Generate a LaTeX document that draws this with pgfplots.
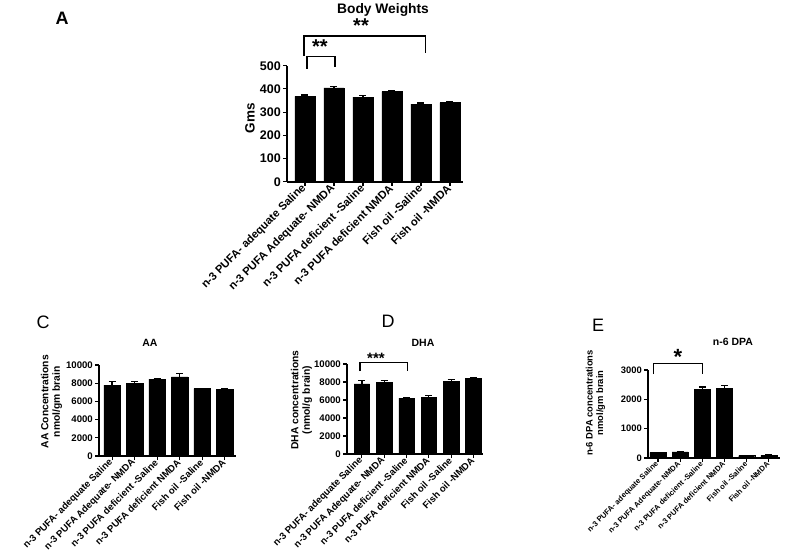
\documentclass[border=0pt]{standalone}
\usepackage{fontspec}
\setmainfont{Liberation Sans}
\usepackage{pgfplots}
\pgfplotsset{compat=1.18}
\newcommand{\fs}[1]{\bfseries\fontsize{#1}{#1}\selectfont}
\pgfplotsset{
  panel/.style={
    scale only axis, anchor=south west,
    axis x line*=bottom, axis y line*=left,
    axis line style={line width=1.4pt},
    tick style={black, line width=1.1pt},
    tick align=outside, major tick length=4pt,
    xtick={0,...,5},
    xticklabels={n-3 PUFA- adequate Saline, n-3 PUFA Adequate- NMDA, n-3 PUFA deficient -Saline, n-3 PUFA deficient NMDA, Fish oil -Saline, Fish oil -NMDA},
    xticklabel style={rotate=45, anchor=east, inner sep=1pt},
    ybar, clip=false, enlargelimits=false,
    /pgf/number format/assume math mode=true,
    /pgf/number format/1000 sep={},
    scaled y ticks=false,
    yticklabel style={inner sep=2pt},
  },
  bars/.style={fill=black, draw=black,
    error bars/.cd, y dir=plus, y explicit,
    error bar style={line width=1.2pt},
    error mark options={rotate=90, mark size=3.5pt, line width=1.2pt}},
}
\begin{document}
\begin{tikzpicture}
\useasboundingbox (0,0) rectangle (785pt,550pt);
% ---------------- Panel A
\begin{axis}[panel, at={(287pt,368.3pt)}, width=176pt, height=116pt,
  xmin=-0.62, xmax=5.45, ymin=0, ymax=500, ytick={0,100,...,500},
  bar width=20pt, axis line style={line width=1.8pt},
  yticklabel style={font=\fs{12.5}}, xticklabel style={font=\fs{11.2}}]
\addplot[bars] coordinates {(0,368) +- (0,6) (1,404) +- (0,8) (2,365) +- (0,5) (3,388) +- (0,4) (4,334) +- (0,5) (5,341) +- (0,5)};
\end{axis}
\node[font=\fs{18}] at (62pt,532pt) {A};
\node[font=\fs{13.8}] at (383pt,540pt) {Body Weights};
\node[font=\fs{13.5}, rotate=90] at (250pt,432pt) {Gms};
\draw[line width=1.3pt] (304pt,494pt) -- (304pt,514pt) -- (425.7pt,514pt) -- (425.7pt,497pt);
\draw[line width=1.3pt] (307pt,481pt) -- (307pt,493.3pt) -- (335pt,493.3pt) -- (335pt,483pt);
\node[font=\fs{20}] at (361pt,524pt) {**};
\node[font=\fs{20}] at (320pt,503pt) {**};
% ---------------- Panel C
\begin{axis}[panel, at={(99pt,94pt)}, width=137pt, height=91pt,
  xmin=-0.58, xmax=5.5, ymin=0, ymax=10000, ytick={0,2000,...,10000},
  bar width=16.5pt,
  yticklabel style={font=\fs{9.6}}, xticklabel style={font=\fs{9.6}}]
\addplot[bars] coordinates {(0,7800) +- (0,400) (1,8000) +- (0,150) (2,8450) +- (0,100) (3,8700) +- (0,400) (4,7400) +- (0,60) (5,7350) +- (0,80)};
\end{axis}
\node[font=\fontsize{18}{18}\selectfont] at (43pt,228pt) {C};
\node[font=\fs{10.5}] at (150pt,207pt) {AA};
\node[font=\fs{10.3}, rotate=90, align=center] at (51.5pt,148.3pt) {AA Concentrations\\[1pt]nmol/gm brain};
% ---------------- Panel D
\begin{axis}[panel, at={(347pt,96pt)}, width=136pt, height=90pt,
  xmin=-0.67, xmax=5.43, ymin=0, ymax=10000, ytick={0,2000,...,10000},
  bar width=15.5pt,
  yticklabel style={font=\fs{9.6}}, xticklabel style={font=\fs{9.6}}]
\addplot[bars] coordinates {(0,7800) +- (0,400) (1,8000) +- (0,150) (2,6200) +- (0,50) (3,6300) +- (0,200) (4,8100) +- (0,200) (5,8400) +- (0,100)};
\end{axis}
\node[font=\fontsize{18}{18}\selectfont] at (388pt,229pt) {D};
\node[font=\fs{10.5}] at (423pt,207pt) {DHA};
\node[font=\fs{10.3}, rotate=90, align=center] at (301.5pt,150pt) {DHA concentrations\\[1pt](nmol/g brain)};
\draw[line width=1.1pt] (360pt,179pt) -- (360pt,187.3pt) -- (407.3pt,187.3pt) -- (407.3pt,179pt);
\node[font=\fs{15}] at (376pt,192pt) {***};
% ---------------- Panel E
\begin{axis}[panel, at={(648pt,92pt)}, width=132pt, height=88pt,
  xmin=-0.45, xmax=5.5, ymin=0, ymax=3000, ytick={0,1000,...,3000},
  bar width=16pt,
  yticklabel style={font=\fs{9.4}}, xticklabel style={font=\fs{7.6}}]
\addplot[bars] coordinates {(0,190) +- (0,10) (1,210) +- (0,10) (2,2350) +- (0,70) (3,2380) +- (0,90) (4,80) +- (0,10) (5,90) +- (0,10)};
\end{axis}
\node[font=\fontsize{18}{18}\selectfont] at (598pt,225pt) {E};
\node[font=\fs{10.5}] at (733pt,208pt) {n-6 DPA};
\node[font=\fs{9.4}, rotate=90, align=center] at (595.5pt,147pt) {n-6 DPA concentrations\\[1pt]nmol/gm brain};
\draw[line width=1.1pt] (653.3pt,176pt) -- (653.3pt,186.7pt) -- (702.7pt,186.7pt) -- (702.7pt,176pt);
\node[font=\fs{22}] at (678pt,193pt) {*};
\end{tikzpicture}
\end{document}
